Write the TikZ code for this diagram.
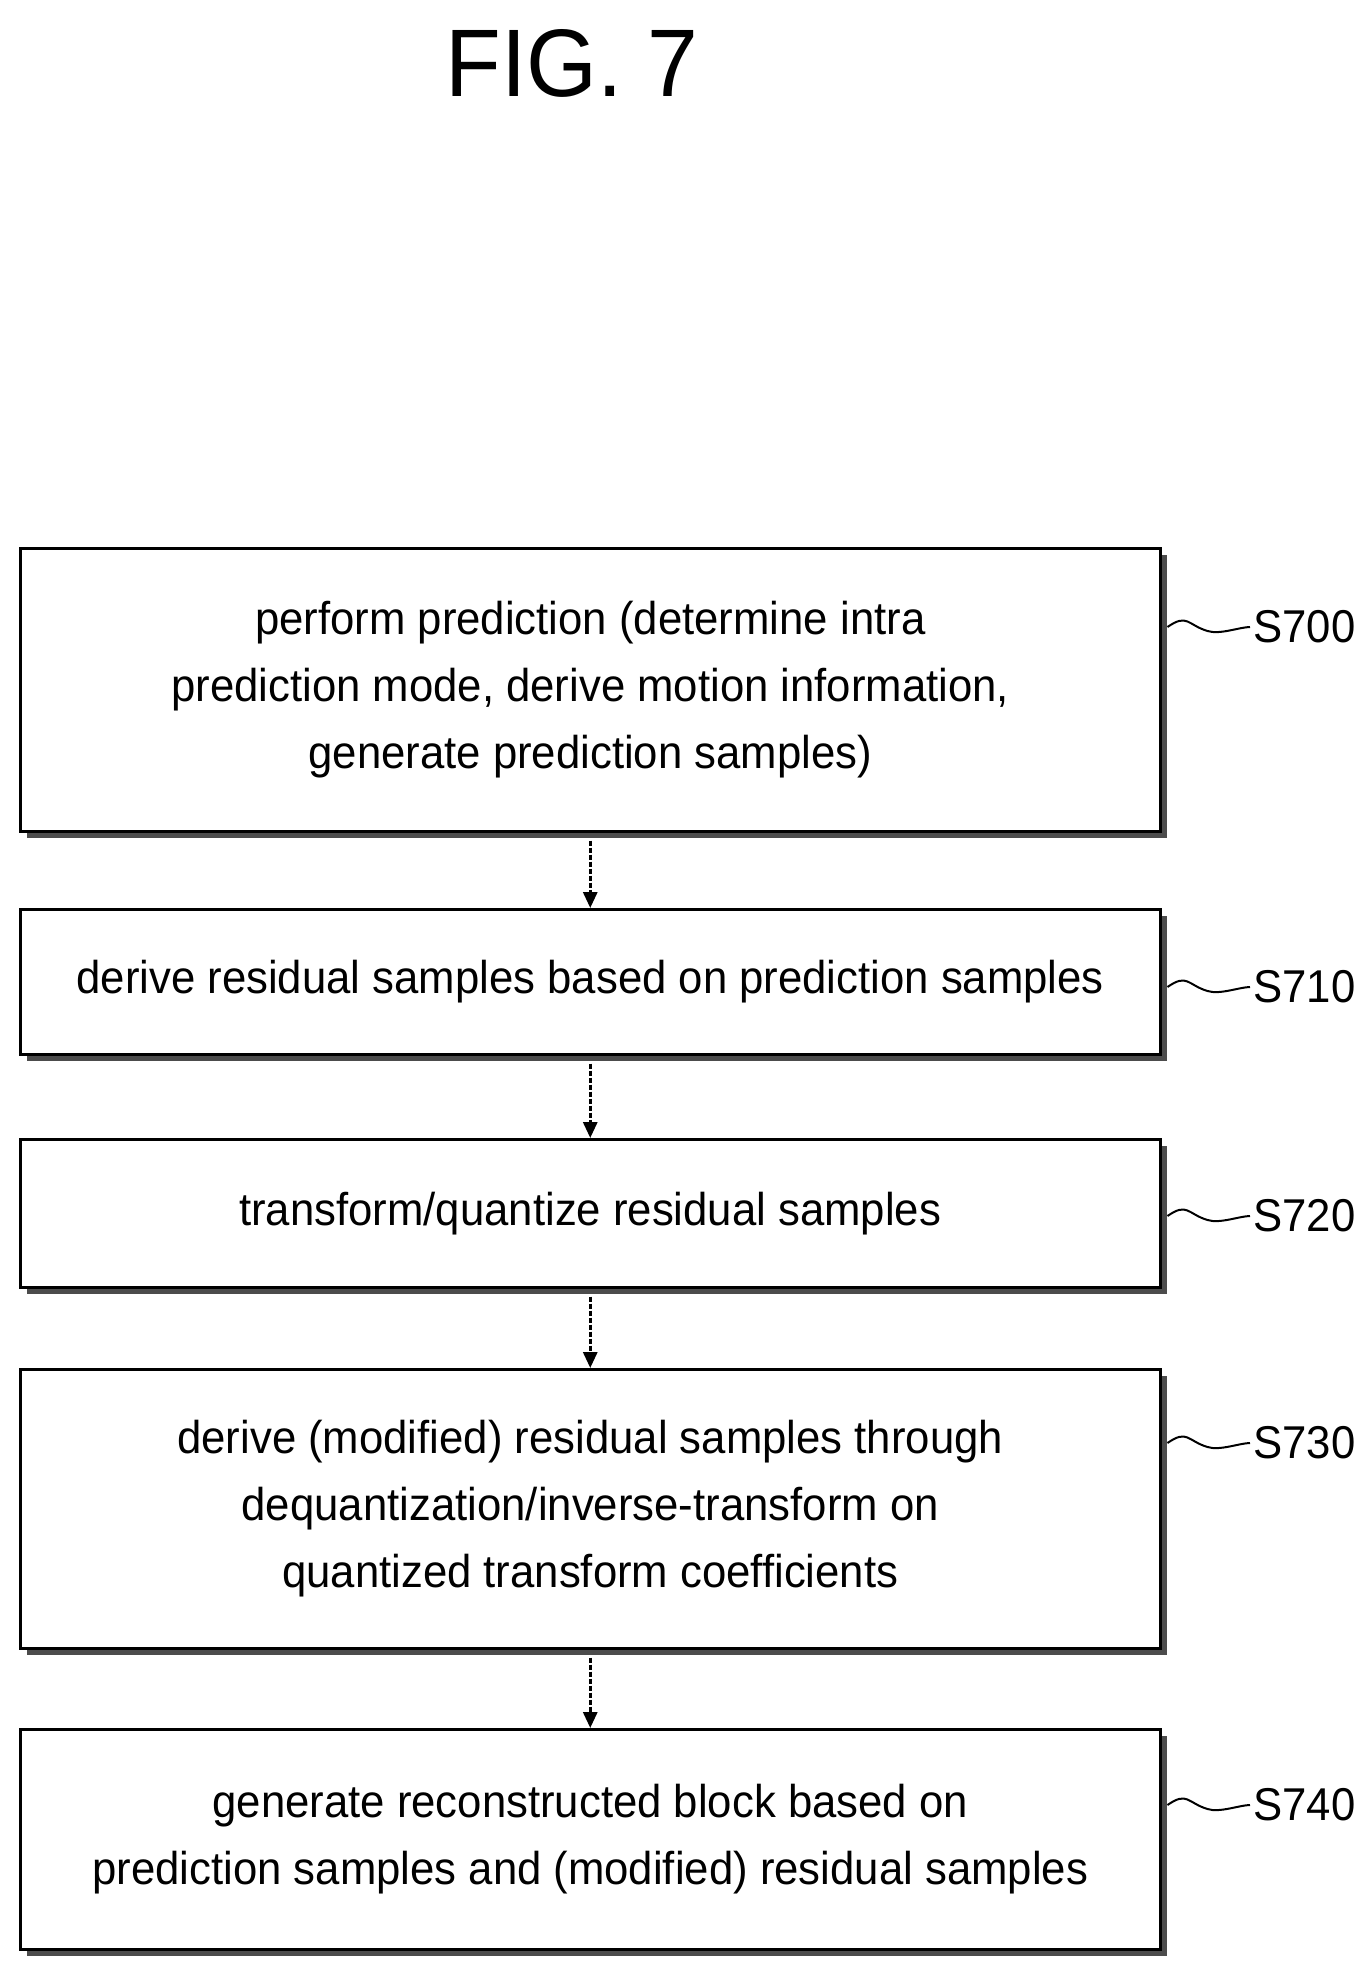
\documentclass[tikz,border=0pt]{standalone}
\usepackage{fontspec}
\setmainfont{Liberation Sans}[FakeStretch=0.95]
\usetikzlibrary{arrows.meta}
\begin{document}
\begin{tikzpicture}[x=1pt,y=-1pt,
  stepbox/.style={draw=black,line width=2.5pt,fill=white,minimum width=1140pt,anchor=north west,inner sep=0pt,align=center,font=\fontsize{46}{67}\selectfont},
  shad/.style={fill=black!70},
  conn/.style={line width=3pt,dashed,dash pattern=on 5pt off 2pt,-{Triangle[length=16pt,width=14pt]}},
  lab/.style={font=\fontsize{46}{50}\selectfont,anchor=west},
  wave/.style={line width=2pt}]
\useasboundingbox (0,0) rectangle (1364,1966);
\node[font=\fontsize{96}{96}\selectfont] (title) at (572,63) {FIG. 7};
\foreach \t/\h/\n in {547/283/a,908/145/b,1138/148/c,1368/279/d,1728/220/e}{
  \fill[shad] (27,\t+8) rectangle (1167,\t+\h+8);
}
\node[stepbox,minimum height=283pt] (a) at (19,547) {perform prediction (determine intra\\prediction mode, derive motion information,\\generate prediction samples)};
\node[stepbox,minimum height=145pt] (b) at (19,908) {derive residual samples based on prediction samples};
\node[stepbox,minimum height=148pt] (c) at (19,1138) {transform/quantize residual samples};
\node[stepbox,minimum height=279pt] (d) at (19,1368) {derive (modified) residual samples through\\dequantization/inverse-transform on\\quantized transform coefficients};
\node[stepbox,minimum height=220pt] (e) at (19,1728) {generate reconstructed block based on\\prediction samples and (modified) residual samples};
\draw[conn] (a.south) ++(0,8) coordinate (a1) -- (a1 |- b.north);
\draw[conn] (b.south) ++(0,8) coordinate (b1) -- (b1 |- c.north);
\draw[conn] (c.south) ++(0,8) coordinate (c1) -- (c1 |- d.north);
\draw[conn] (d.south) ++(0,8) coordinate (d1) -- (d1 |- e.north);
\foreach \n/\s/\y in {a/S700/627,b/S710/987,c/S720/1216,d/S730/1443,e/S740/1805}{
  \node[lab] (l\n) at (1250,\y) {\s};
  \draw[wave] (\n.east |- l\n.west) ++(6,0) .. controls +(20,-14) and +(-20,-6) .. +(40,4) .. controls +(12,4) and +(-10,0) .. (l\n.west);
}
\end{tikzpicture}
\end{document}
